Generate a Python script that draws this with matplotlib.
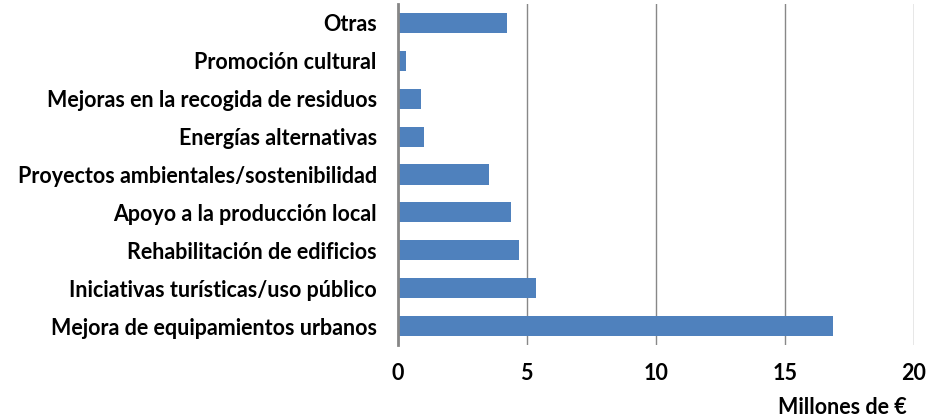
import matplotlib
matplotlib.use("Agg")
import matplotlib.pyplot as plt

categories = ["Mejora de equipamientos urbanos", "Iniciativas turísticas/uso público",
              "Rehabilitación de edificios", "Apoyo a la producción local",
              "Proyectos ambientales/sostenibilidad", "Energías alternativas",
              "Mejoras en la recogida de residuos", "Promoción cultural", "Otras"]
values = [16.88, 5.37, 4.70, 4.38, 3.55, 1.02, 0.92, 0.33, 4.24]
xticks = [0, 5, 10, 15, 20]
xlabel = "Millones de €"

plt.rcParams['font.family'] = ['Lato', 'DejaVu Sans']
FS = 15.5

fig = plt.figure(figsize=(9.36, 4.18), dpi=100)
ax = fig.add_axes([397.7/936, 1 - 345/418, (914 - 397.7)/936, (345 - 4)/418])

ax.barh(range(len(categories)), values, height=0.53, color='#4F81BD', zorder=3)
ax.set_xlim(0, 20)
ax.set_ylim(-0.5, len(categories) - 0.5)
ax.set_xticks(xticks)
ax.set_xticklabels([str(t) for t in xticks], fontsize=FS, fontweight='bold')
ax.set_yticks(range(len(categories)))
ax.set_yticklabels(categories, fontsize=FS, fontweight='bold')
ax.tick_params(axis='x', length=0, pad=13)
ax.tick_params(axis='y', length=0, pad=15)
ax.grid(axis='x', color='#888888', linewidth=1, zorder=0)
for s in ['top', 'right', 'bottom']:
    ax.spines[s].set_visible(False)
ax.spines['left'].set_color('#868686')
ax.spines['left'].set_linewidth(2)
ax.spines['left'].set_zorder(4)
fig.text(907/936, 1 - 407/418, xlabel, ha='right', va='center', fontsize=FS, fontweight='bold')

fig.savefig("out.png", dpi=100)
